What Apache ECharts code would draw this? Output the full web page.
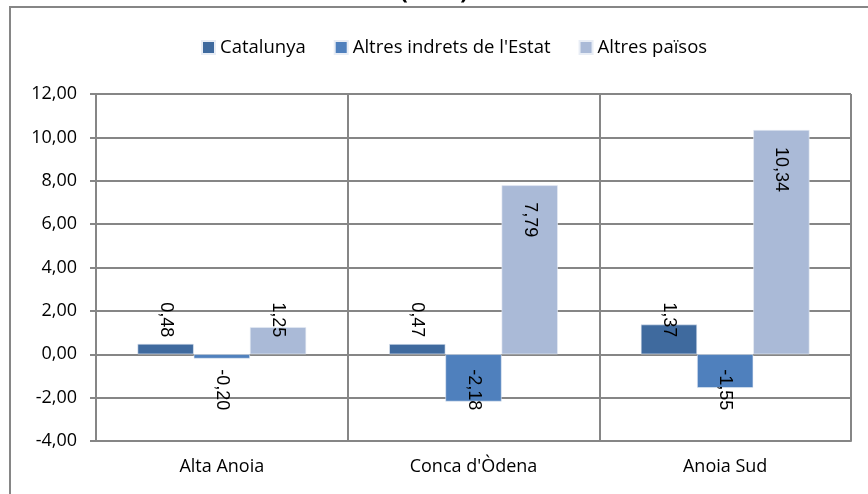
<!DOCTYPE html>
<html>
<head>
    <meta charset="utf-8">
    <title>Anoia</title>
    <script src="https://cdn.jsdelivr.net/npm/echarts@6/dist/echarts.min.js"></script>
    <style>
        body, html {
            margin: 0;
            background: #fff;
        }
        #main {
            width: 868px;
            height: 494px;
        }
    </style>
</head>
<body>
<div id="main"></div>
<script type="text/javascript">
    var categories = ['Alta Anoia', "Conca d'Òdena", 'Anoia Sud'];
    var catalunya = [0.48, 0.47, 1.37];
    var altresEstat = [-0.20, -2.18, -1.55];
    var altresPaisos = [1.25, 7.79, 10.34];
    var yTicks = [-4, -2, 0, 2, 4, 6, 8, 10, 12];

    var chart = echarts.init(document.getElementById('main'));

    function fmt(v) {
        return v.toFixed(2).replace('.', ',');
    }

    // label sits inside the top of tall bars, otherwise floats near the zero line
    function labelled(values) {
        return values.map(function (v) {
            var lab;
            if (v < 0) {
                lab = {position: 'insideTop', align: 'left', distance: 15};
            } else if (v < 2) {
                lab = {position: 'insideBottom', align: 'right', distance: 17};
            } else {
                lab = {position: 'insideTop', align: 'left', distance: 17};
            }
            return {value: v, label: lab};
        });
    }

    var labelBase = {
        show: true,
        rotate: -90,
        verticalAlign: 'middle',
        fontFamily: 'Liberation Sans',
        fontSize: 18,
        color: '#000',
        formatter: function (p) { return fmt(p.value); }
    };

    function bar(name, values, color) {
        return {
            name: name,
            type: 'bar',
            barGap: '0%',
            barCategoryGap: '33%',
            itemStyle: {color: color, borderColor: '#e8edf5', borderWidth: 0.6},
            label: labelBase,
            data: labelled(values)
        };
    }

    var option = {
        animation: false,
        backgroundColor: '#fff',
        textStyle: {fontFamily: 'Open Sans'},
        graphic: [
            {
                type: 'text',
                left: 'center',
                top: -19,
                style: {text: '(2012)', font: 'bold 23px "Open Sans"', fill: '#000'}
            },
            {
                type: 'rect',
                shape: {x: 10, y: 7, width: 900, height: 600},
                style: {fill: null, stroke: '#868686', lineWidth: 2}
            }
        ],
        legend: {
            top: 33,
            left: 196,
            itemWidth: 13,
            itemHeight: 13,
            itemGap: 28,
            icon: 'rect',
            textStyle: {fontFamily: 'Open Sans', fontSize: 18.5, color: '#000'},
            data: ['Catalunya', "Altres indrets de l'Estat", 'Altres països']
        },
        grid: {
            left: 96,
            right: 17,
            top: 94,
            bottom: 53,
            containLabel: false
        },
        xAxis: {
            type: 'category',
            data: categories,
            axisLine: {onZero: false, lineStyle: {color: '#868686', width: 2}},
            axisTick: {show: false},
            splitLine: {show: true, lineStyle: {color: '#868686', width: 2}},
            axisLabel: {color: '#000', fontSize: 18, margin: 17, fontFamily: 'Open Sans'}
        },
        yAxis: {
            type: 'value',
            min: yTicks[0],
            max: yTicks[yTicks.length - 1],
            interval: 2,
            axisLine: {show: true, lineStyle: {color: '#868686', width: 2}},
            axisTick: {show: true, length: 6, lineStyle: {color: '#868686', width: 2}},
            splitLine: {lineStyle: {color: '#868686', width: 2}},
            axisLabel: {
                color: '#000',
                fontSize: 18,
                margin: 19,
                fontFamily: 'Open Sans',
                formatter: fmt
            }
        },
        series: [
            bar('Catalunya', catalunya, '#3f6a9e'),
            bar("Altres indrets de l'Estat", altresEstat, '#4f80bd'),
            bar('Altres països', altresPaisos, '#aabad7')
        ]
    };

    chart.setOption(option);
</script>
</body>
</html>
